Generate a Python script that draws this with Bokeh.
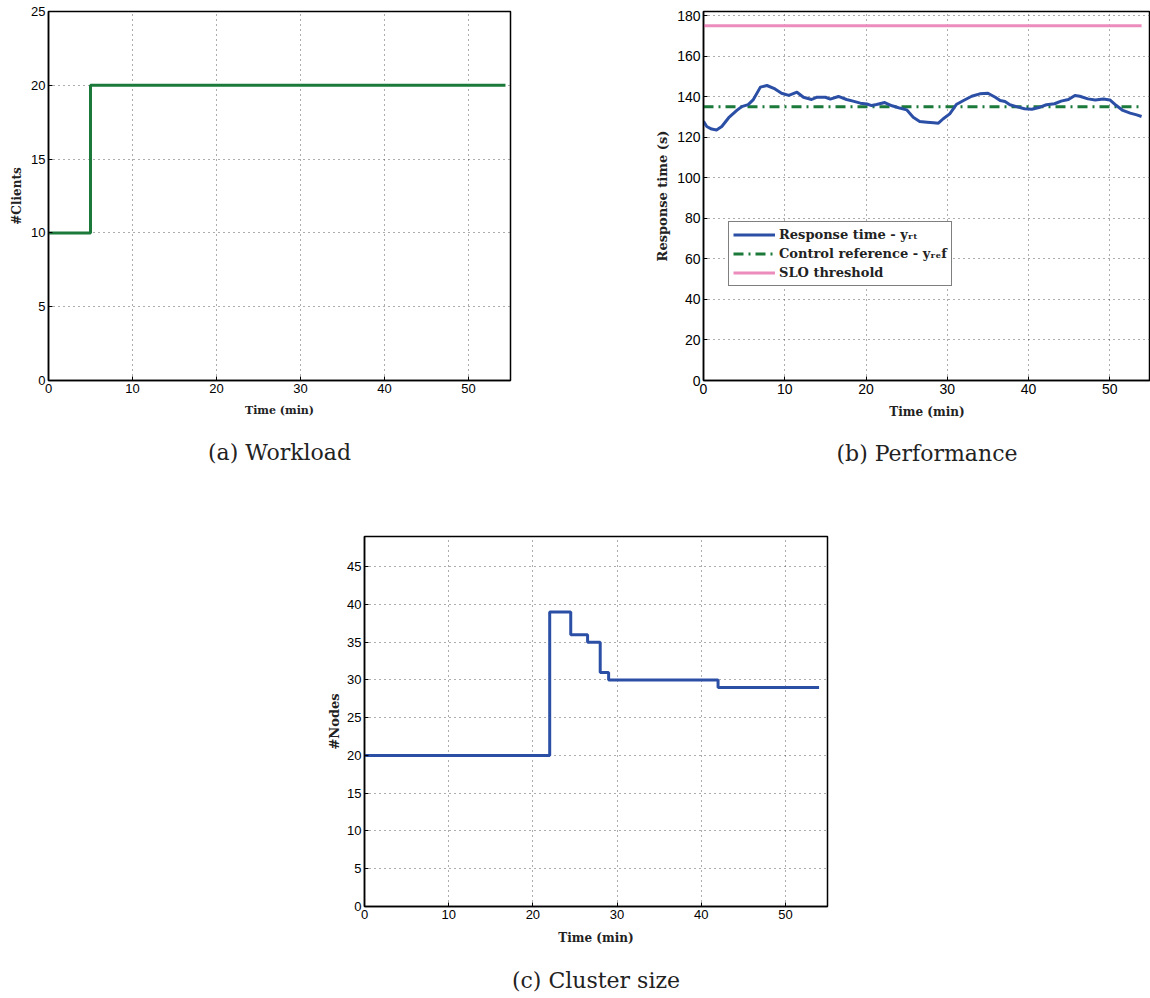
from bokeh.plotting import figure
from bokeh.layouts import column, row, Spacer
from bokeh.models import Title, FixedTicker, Range1d
from bokeh.embed import file_html
from bokeh.resources import INLINE

# ---------------- data ----------------
x_ticks = [0, 10, 20, 30, 40, 50]

workload_time = [0, 5, 54.4]
workload_clients = [10, 20, 20]
workload_yticks = [0, 5, 10, 15, 20, 25]

rt_time = [0, 0.4, 1.0, 1.6, 2.25, 3.1, 4.1, 4.7, 5.5, 6.1, 7.0, 7.8, 8.8, 9.6,
           10.5, 11.5, 12.3, 13.3, 13.9, 15.0, 15.6, 16.6, 17.6, 18.4, 19.3, 20.1,
           20.7, 21.3, 22.3, 23.2, 24.0, 25.0, 25.8, 26.6, 27.5, 28.3, 28.9, 29.5,
           30.3, 31.1, 32.0, 33.0, 34.0, 35.0, 35.9, 36.5, 37.1, 37.7, 38.5, 39.5,
           40.4, 41.4, 42.2, 43.2, 44.0, 44.9, 45.7, 46.3, 47.3, 48.2, 49.2, 50.0,
           50.8, 51.6, 52.5, 53.3, 53.9]
rt_values = [127.9, 125.3, 124.0, 123.6, 125.3, 129.6, 133.2, 135.1, 136.1, 138.4,
             144.7, 145.5, 143.8, 141.7, 140.6, 142.2, 139.7, 138.6, 139.7, 139.7,
             138.8, 140.1, 138.6, 137.8, 136.8, 136.4, 135.6, 136.1, 137.1, 135.5,
             134.5, 133.5, 129.9, 127.8, 127.4, 127.1, 126.9, 129.1, 131.5, 136.1,
             138.1, 140.2, 141.4, 141.7, 139.7, 138.1, 137.6, 136.0, 135.1, 134.0,
             133.8, 134.8, 136.0, 136.5, 137.8, 138.6, 140.6, 140.2, 138.9, 138.4,
             138.8, 138.4, 135.6, 133.2, 131.9, 131.0, 130.2]
ref_value = 135
slo_value = 175
rt_yticks = [0, 20, 40, 60, 80, 100, 120, 140, 160, 180]

nodes_time = [0, 22, 24.5, 26.5, 28, 29, 42, 54]
nodes_count = [20, 39, 36, 35, 31, 30, 29, 29]
nodes_yticks = [0, 5, 10, 15, 20, 25, 30, 35, 40, 45]

BLUE = "#2c4fa6"
GREEN = "#1b7a3a"
PINK = "#ec8cbc"


def make_fig(fw, fh, xr, yr, yticks, ylabel, caption, bl, bt, bb, br,
             xlabel_px, ylabel_px, tick_px, cap_standoff, xlab_standoff, ylab_standoff):
    p = figure(frame_width=fw, frame_height=fh, x_range=Range1d(*xr),
               y_range=Range1d(*yr), output_backend="svg", toolbar_location=None,
               min_border_left=bl, min_border_top=bt, min_border_bottom=bb,
               min_border_right=br)
    p.background_fill_color = "white"
    p.border_fill_color = "white"
    p.outline_line_color = "black"
    p.outline_line_width = 1.5
    p.outline_line_alpha = 1.0
    bottom = p.below[0]
    left = p.left[0]
    for ax in (bottom, left):
        ax.major_tick_in = 4
        ax.major_tick_out = 0
        ax.minor_tick_line_color = None
        ax.axis_line_color = "black"
        ax.axis_line_width = 1.5
        ax.major_tick_line_color = "black"
        ax.major_label_text_font = "Liberation Sans"
        ax.major_label_text_font_size = f"{tick_px}px"
        ax.major_label_text_color = "black"
        ax.major_label_standoff = 3
        ax.axis_label_text_font = "DejaVu Serif"
        ax.axis_label_text_font_style = "bold"
        ax.axis_label_text_color = "#222222"
    bottom.axis_label_text_font_size = f"{xlabel_px}px"
    left.axis_label_text_font_size = f"{ylabel_px}px"
    bottom.ticker = FixedTicker(ticks=x_ticks)
    left.ticker = FixedTicker(ticks=yticks)
    p.xgrid.ticker = FixedTicker(ticks=x_ticks)
    p.ygrid.ticker = FixedTicker(ticks=yticks)
    for g in (p.xgrid, p.ygrid):
        g.grid_line_color = "#333333"
        g.grid_line_dash = "1 4"
        g.grid_line_width = 1
        g.grid_line_alpha = 0.8
    bottom.axis_label = "Time (min)"
    left.axis_label = ylabel
    bottom.axis_label_standoff = xlab_standoff
    left.axis_label_standoff = ylab_standoff
    p.add_layout(Title(text=caption, align="center", text_font="DejaVu Serif",
                       text_font_size="22px", text_font_style="normal",
                       text_color="#222222", standoff=cap_standoff), "below")
    return p


# (a) Workload
pa = make_fig(462, 369, (0, 55), (0, 25), workload_yticks, "#Clients",
              "(a) Workload", 48, 11, 120, 135, 11, 12, 13, 36, 8, 4)
pa.step(workload_time, workload_clients, mode="after", line_color=GREEN,
        line_width=3)

# (b) Performance
pb = make_fig(447, 369, (0, 55), (0, 182), rt_yticks, "Response time (s)",
              "(b) Performance", 58, 11, 120, 0, 12, 13, 14, 34, 8, 4)
pb.line([rt_time[0], rt_time[-1]], [slo_value, slo_value], line_color=PINK,
        line_width=3, legend_label="SLO threshold")
pb.line([rt_time[0], rt_time[-1]], [ref_value, ref_value], line_color=GREEN,
        line_width=3, line_dash="10 5 2 5", legend_label="Control reference - yᵣₑf")
pb.line(rt_time, rt_values, line_color=BLUE, line_width=3, line_join="round",
        legend_label="Response time - yᵣₜ")
leg = pb.legend[0]
leg.items = [leg.items[2], leg.items[1], leg.items[0]]
leg.location = (25, 94)
leg.label_text_font = "DejaVu Serif"
leg.label_text_font_style = "bold"
leg.label_text_font_size = "13px"
leg.label_text_color = "#222222"
leg.glyph_width = 42
leg.glyph_height = 17
leg.label_height = 17
leg.label_standoff = 4
leg.padding = 4
leg.spacing = 2
leg.margin = 0
leg.border_line_color = "black"
leg.border_line_width = 1.5
leg.background_fill_color = "white"
leg.background_fill_alpha = 1

# (c) Cluster size
pc = make_fig(463, 370, (0, 55), (0, 49), nodes_yticks, "#Nodes",
              "(c) Cluster size", 48, 36, 92, 40, 12, 13, 13, 37, 9, 2)
pc.step(nodes_time, nodes_count, mode="after", line_color=BLUE, line_width=3)

layout = column(row(pa, pb), row(Spacer(width=316, height=10), pc))

open("out.html", "w").write(file_html(layout, INLINE))
